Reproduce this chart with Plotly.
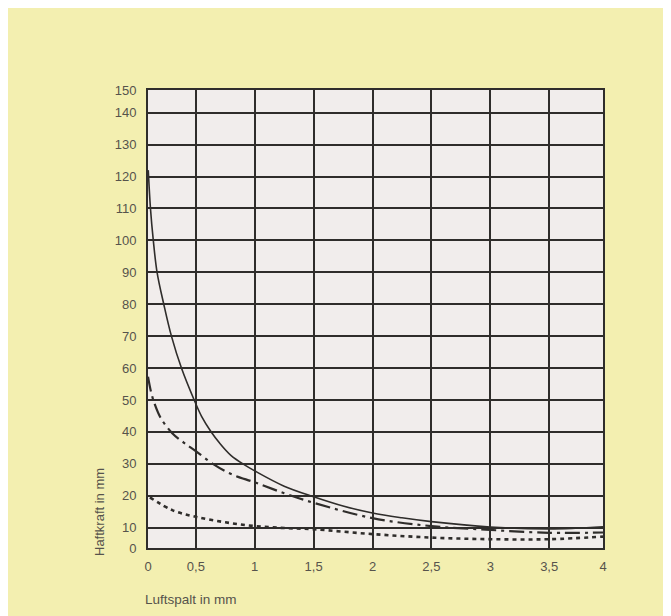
"""Haftkraft eines Magneten über dem Luftspalt (Nachbau eines gescannten Diagramms)."""

import plotly.graph_objects as go

# ─── Data (in the grid's own scale) ───────────────────────────────────────────
# The outer cells of the printed grid are cut short, so the "0"/"4" and
# "0"/"150" labels sit on the frame rather than on a full grid step.
x_tick_text = ["0", "0,5", "1", "1,5", "2", "2,5", "3", "3,5", "4"]
y_tick_text = ["0", "10", "20", "30", "40", "50", "60", "70", "80",
               "90", "100", "110", "120", "130", "140", "150"]

solid_x = [0.096, 0.115, 0.139, 0.171, 0.228, 0.293, 0.378, 0.486, 0.55, 0.625,
           0.7, 0.8, 0.917, 1.0, 1.25, 1.5, 1.75, 2.0, 2.25, 2.5, 3.0, 3.5, 3.957]
solid_y = [122, 110, 100, 90, 80, 70, 60, 50, 44.8, 40.3,
           36.6, 32.6, 29.6, 27.8, 23.0, 19.7, 16.8, 14.6, 13.1, 11.9, 10.2, 9.6, 10.3]

dashdot_x = [0.094, 0.12, 0.15, 0.2, 0.3, 0.4, 0.5, 0.645, 0.8, 1.0,
             1.25, 1.5, 2.0, 2.5, 3.0, 3.5, 3.957]
dashdot_y = [57.3, 52.5, 48.8, 44.5, 39.6, 36.6, 34.0, 30.0, 26.8, 24.2,
             20.8, 17.8, 13.0, 10.5, 9.3, 8.4, 8.5]

dotted_x = [0.11, 0.3, 0.5, 0.75, 1.0, 1.25, 1.5, 2.0, 2.5, 3.0, 3.5, 3.957]
dotted_y = [19.5, 15.5, 13.4, 11.7, 10.5, 9.9, 9.5, 8.0, 6.9, 6.4, 6.4, 7.2]

# ─── Axis geometry (grid scale) ───────────────────────────────────────────────
X_RANGE = [0.094, 3.957]
Y_RANGE = [3.64, 147.1]
X_TICKS = [X_RANGE[0], 0.5, 1, 1.5, 2, 2.5, 3, 3.5, X_RANGE[1]]
Y_TICKS = [Y_RANGE[0]] + list(range(10, 150, 10)) + [Y_RANGE[1]]

FONT = "Liberation Sans Narrow, Liberation Sans, Arial, sans-serif"
INK = "#2f2d2b"
TEXT = "#56534c"
PAPER = "#f3efb0"
PLOT_BG = "#f1edec"

fig = go.Figure()

fig.add_trace(go.Scatter(x=solid_x, y=solid_y, mode="lines",
                         line=dict(color=INK, width=1.6, shape="spline", smoothing=1)))
fig.add_trace(go.Scatter(x=dashdot_x, y=dashdot_y, mode="lines",
                         line=dict(color=INK, width=2.2, dash="15px,5px,3px,5px",
                                   shape="spline", smoothing=1)))
fig.add_trace(go.Scatter(x=dotted_x, y=dotted_y, mode="lines",
                         line=dict(color=INK, width=2.6, dash="4px,4px",
                                   shape="spline", smoothing=1)))

axis_common = dict(
    showgrid=True, gridcolor=INK, gridwidth=2,
    showline=True, linecolor=INK, linewidth=2, mirror=True,
    zeroline=False, ticks="", fixedrange=True,
    tickfont=dict(family=FONT, size=13, color=TEXT),
)

fig.update_xaxes(range=X_RANGE, tickmode="array", tickvals=X_TICKS,
                 ticktext=x_tick_text, ticklabelstandoff=5, **axis_common)
fig.update_yaxes(range=Y_RANGE, tickmode="array", tickvals=Y_TICKS,
                 ticktext=y_tick_text, ticklabelstandoff=7, **axis_common)

fig.update_layout(
    width=663, height=608,
    margin=dict(l=140, r=68, t=82, b=68),
    paper_bgcolor=PAPER, plot_bgcolor=PLOT_BG,
    showlegend=False,
    font=dict(family=FONT, size=13, color=TEXT),
    annotations=[
        dict(text="Luftspalt in mm", xref="paper", yref="paper", x=0, y=0,
             xanchor="left", yanchor="top", xshift=-5, yshift=-42, showarrow=False,
             font=dict(family=FONT, size=13.5, color=TEXT)),
        dict(text="Haftkraft in mm", xref="paper", yref="paper", x=0, y=0,
             xanchor="center", yanchor="bottom", xshift=-49, yshift=-10,
             textangle=-90, showarrow=False,
             font=dict(family=FONT, size=13, color=TEXT)),
    ],
)

fig.write_html("out.html")
